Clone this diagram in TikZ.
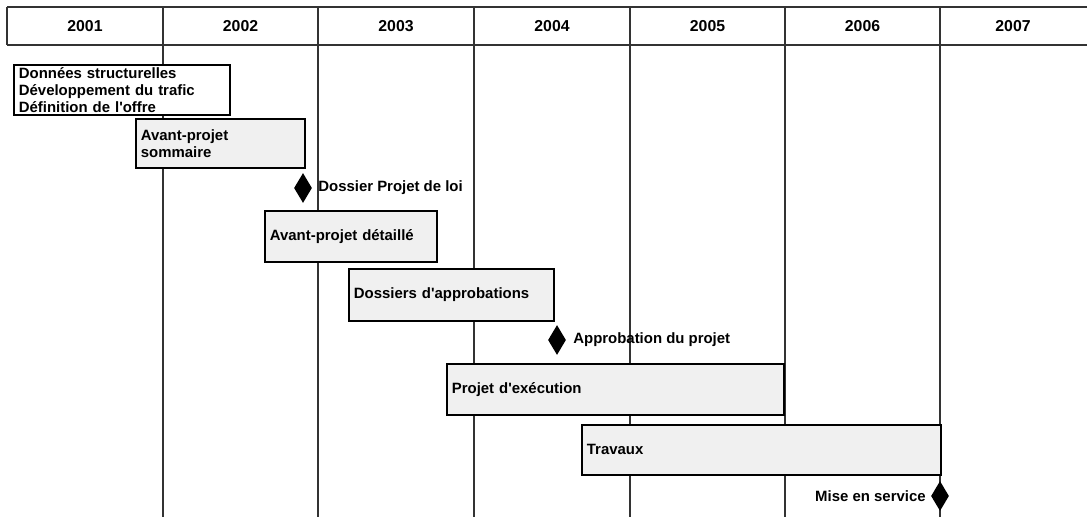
\documentclass[tikz,border=0pt]{standalone}
\usepackage{fontspec}
\setmainfont{Liberation Sans}
\usepackage{tikz}
\usetikzlibrary{shapes.geometric,positioning}

\begin{document}
\begin{tikzpicture}[x=0.02cm, y=-0.02cm,
  grid/.style={line width=0.8pt,black!80},
  year/.style={font=\fontsize{9}{10}\selectfont\bfseries},
  bar/.style={draw,line width=1pt,fill=black!6,anchor=north west,align=left,
    inner xsep=0.07cm,inner ysep=0pt,font=\fontsize{8.5}{9.7}\selectfont\bfseries},
  jalon/.style={diamond,fill=black,inner sep=0pt,minimum width=0.36cm,minimum height=0.6cm},
  lbl/.style={font=\fontsize{8.5}{9.7}\selectfont\bfseries,inner sep=0pt}]
  \useasboundingbox (0,0) rectangle (1087,517);
  % grille des annees
  \draw[grid,line width=1pt] (7,7) -- (1087,7);
  \draw[grid,line width=1pt] (7,45) -- (1087,45);
  \draw[grid] (7,7) -- (7,45);
  \foreach \xx in {163,318,474,630,785,940} \draw[grid] (\xx,7) -- (\xx,517);
  \node[year] (a1) at (85,26) {2001};   \node[year] (a2) at (240.5,26) {2002};
  \node[year] (a3) at (396,26) {2003};  \node[year] (a4) at (552,26) {2004};
  \node[year] (a5) at (707.5,26) {2005}; \node[year] (a6) at (862.5,26) {2006};
  \node[year] (a7) at (1013,26) {2007};
  % phases
  \node[bar,fill=white,text width=4.12cm,minimum width=4.32cm,minimum height=1.0cm] (ds) at (13,64)
    {Données structurelles\\Développement du trafic\\Définition de l\textquotesingle offre};
  \node[bar,text width=3.18cm,minimum width=3.38cm,minimum height=0.98cm] (aps) at (135,118)
    {Avant-projet\\sommaire};
  \node[jalon] (j1) at (303,188) {};
  \node[lbl,anchor=west] (l1) at (318,188) {Dossier Projet de loi};
  \node[bar,text width=3.24cm,minimum width=3.44cm,minimum height=1.02cm] (apd) at (264,210)
    {Avant-projet détaillé};
  \node[bar,text width=3.90cm,minimum width=4.10cm,minimum height=1.04cm] (da) at (348,268)
    {Dossiers d\textquotesingle approbations};
  \node[jalon] (j2) at (557,340) {};
  \node[lbl,anchor=west] (l2) at (573,340) {Approbation du projet};
  \node[bar,text width=6.54cm,minimum width=6.74cm,minimum height=1.02cm] (pe) at (446,363)
    {Projet d\textquotesingle exécution};
  \node[bar,text width=6.98cm,minimum width=7.18cm,minimum height=1.0cm] (tr) at (581,424)
    {Travaux};
  \node[jalon] (j3) at (940,496) {};
  \node[lbl,anchor=east] (l3) at (926,496) {Mise en service};
\end{tikzpicture}
\end{document}
